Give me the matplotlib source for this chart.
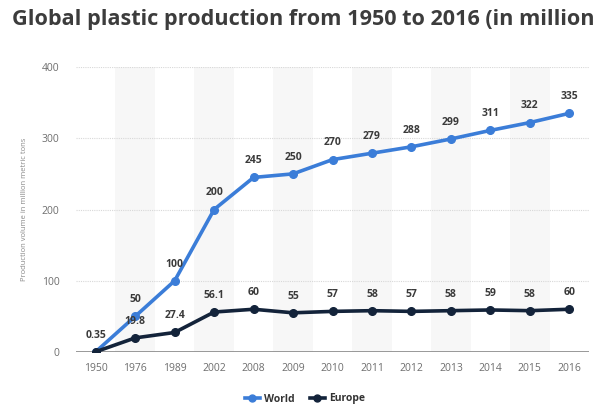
import matplotlib
matplotlib.use("Agg")
import matplotlib.pyplot as plt
from matplotlib.lines import Line2D

plt.rcParams['font.family'] = ['Open Sans', 'DejaVu Sans']

years = ["1950", "1976", "1989", "2002", "2008", "2009", "2010", "2011",
         "2012", "2013", "2014", "2015", "2016"]
world = [0.35, 50, 100, 200, 245, 250, 270, 279, 288, 299, 311, 322, 335]
europe = [0.35, 19.8, 27.4, 56.1, 60, 55, 57, 58, 57, 58, 59, 58, 60]
europe_labels = ["", "19.8", "27.4", "56.1", "60", "55", "57", "58", "57",
                 "58", "59", "58", "60"]
world_labels = ["0.35", "50", "100", "200", "245", "250", "270", "279", "288",
                "299", "311", "322", "335"]
yticks = [0, 100, 200, 300, 400]
title = "Global plastic production from 1950 to 2016 (in million"

world_color = '#3b7dd8'
europe_color = '#13233a'

fig = plt.figure(figsize=(6.02, 4.12), dpi=100)
ax = fig.add_axes([76/602, (412-352)/412, (589-76)/602, (352-67)/412])

x = list(range(len(years)))
for i in x:
    if i % 2 == 1:
        ax.axvspan(i-0.5, i+0.5, color='#f7f7f7', zorder=0, lw=0)

for t in yticks[1:]:
    ax.axhline(t, color='#d8d8d8', lw=0.8, ls=(0, (1, 1)), zorder=1)
ax.axhline(0, color='#888888', lw=1.2, zorder=2)

ax.plot(x, world, color=world_color, lw=2.6, marker='o', ms=5.5, zorder=4)
ax.plot(x, europe, color=europe_color, lw=2.6, marker='o', ms=5.5, zorder=5)

for i in x:
    ax.annotate(world_labels[i], (i, world[i]), xytext=(0, 12), textcoords='offset points',
                ha='center', va='center', fontsize=7.5, fontweight='bold', color='#3a3a3a', zorder=6)
    if europe_labels[i]:
        ax.annotate(europe_labels[i], (i, europe[i]), xytext=(0, 12), textcoords='offset points',
                    ha='center', va='center', fontsize=7.5, fontweight='bold', color='#3a3a3a', zorder=6)

ax.set_xlim(-0.5, len(years)-0.5)
ax.set_ylim(0, 400)
ax.set_xticks(x)
ax.set_xticklabels(years)
ax.set_yticks(yticks)
ax.tick_params(axis='both', length=0, labelsize=7.5, colors='#6e6e6e')
ax.tick_params(axis='x', pad=8)
ax.tick_params(axis='y', pad=12)
for s in ax.spines.values():
    s.set_visible(False)
ax.set_ylabel("Production volume in million metric tons", fontsize=5.5, color='#8a8a8a', labelpad=10)

fig.text(12/602, 1-25/412, title,
         fontsize=15.6, fontweight='bold', color='#3c3c3c', va='baseline', ha='left')

handles = [Line2D([0], [0], color=world_color, lw=2.6, marker='o', ms=5),
           Line2D([0], [0], color=europe_color, lw=2.6, marker='o', ms=5)]
leg = fig.legend(handles, ["World", "Europe"], loc='center', bbox_to_anchor=(305/602, 1-399/412),
                 ncol=2, frameon=False, handlelength=1.4, handletextpad=0.4, columnspacing=1.5,
                 prop={'size': 7.5, 'weight': 'bold'})
for t in leg.get_texts():
    t.set_color('#333333')

fig.savefig("out.png", dpi=100)
